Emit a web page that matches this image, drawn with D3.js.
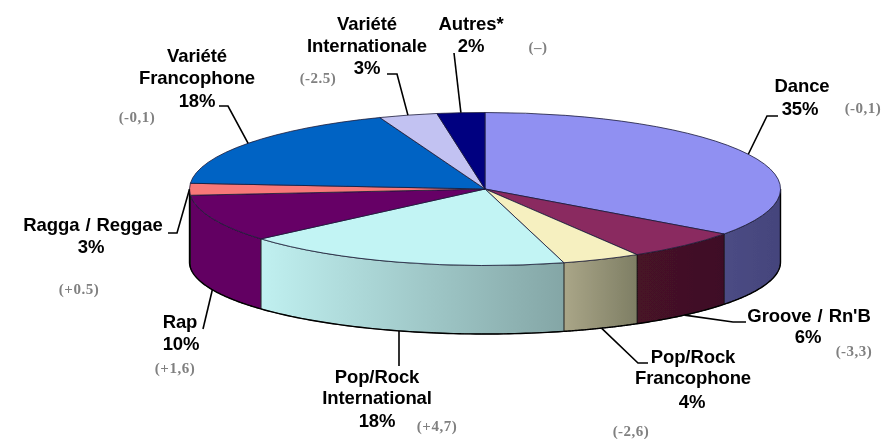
<!DOCTYPE html>
<html><head><meta charset="utf-8">
<script src="https://cdn.jsdelivr.net/npm/d3@7/dist/d3.min.js"></script>
<style>html,body{margin:0;background:#fff}svg{display:block}</style></head>
<body><svg id="c" width="886" height="439"></svg>
<script>
// DATA (clockwise from 12 o'clock)
const categories = ["Dance","Groove / Rn'B","Pop/Rock Francophone","Pop/Rock International","Rap","Ragga / Reggae","Variété Francophone","Variété Internationale","Autres*"];
const sliceShares = [35,6.4,4.3,18,10,2.5,18,3.2,2.6];      // angular shares
const percentLabels = ["35%","6%","4%","18%","10%","3%","18%","3%","2%"];
const changeLabels = ["(-0,1)","(-3,3)","(-2,6)","(+4,7)","(+1,6)","(+0.5)","(-0,1)","(-2.5)","(–)"];
const nameLines = [["Dance"],["Groove / Rn'B"],["Pop/Rock","Francophone"],["Pop/Rock","International"],["Rap"],["Ragga / Reggae"],["Variété","Francophone"],["Variété","Internationale"],["Autres*"]];

// STYLE
const topColors = ["#9090f2","#8a2a60","#f6f0c0","#c2f4f4","#660066","#f87878","#0464c4","#c2c2f2","#000080"];
const wallFrom  = ["#4c4c84","#471228","#aaa688","#c0f0f0","#620062","#600060","","",""];
const wallTo    = ["#44447c","#3e1028","#7e7e64","#84a6a6","#620062","#600060","","",""];

// LAYOUT
const topE = {cx:485,cy:189,rx:295.5,ry:76.5}, botE = {cx:485,cy:262,rx:295.5,ry:72};
const labelPos = [
 {x:802,ys:[92],p:[800,115],g:[863,113]},
 {x:809,ys:[322],p:[808,343],g:[854,356]},
 {x:693,ys:[363,384],p:[692,408],g:[631,436]},
 {x:377,ys:[383,404],p:[377,427],g:[437,431]},
 {x:180,ys:[328],p:[181,350],g:[175,373]},
 {x:93,ys:[231],p:[91,253],g:[79,294]},
 {x:197,ys:[62,84],p:[197,107],g:[137,122]},
 {x:367,ys:[30,52],p:[367,74],g:[318,83]},
 {x:471,ys:[30],p:[471,52],g:[538,52]}
];
const leaderElbows = [
 {rim:"t",pts:[[767,116],[778,116]]},
 {rim:"b",pts:[[733,322],[746,322]]},
 {rim:"b",pts:[[638,363],[648,363]]},
 {rim:"b",pts:[[399,366]]},
 {rim:"b",pts:[[203,329]]},
 {rim:"t",pts:[[177,233],[168,233]]},
 {rim:"t",pts:[[228,106],[219,106]]},
 {rim:"t",pts:[[397,74],[387,74]]},
 {rim:"t",pts:[[454,53]]}
];

const svg = d3.select("#c");
const defs = svg.append("defs");
defs.append("filter").attr("id","soft").attr("x",0).attr("y",0).attr("width",1).attr("height",1)
  .attr("filterUnits","userSpaceOnUse").attr("x",0).attr("y",0).attr("width",886).attr("height",439)
  .append("feGaussianBlur").attr("stdDeviation",0.45);
const root = svg.append("g").attr("filter","url(#soft)");
const pie = d3.pie().sort(null).value(d=>d).startAngle(0).endAngle(2*Math.PI);
const arcs = pie(sliceShares);

const px = (e,a)=>e.cx+e.rx*Math.sin(a), py=(e,a)=>e.cy-e.ry*Math.cos(a);
const outline = d3.line().x(d=>d[0]).y(d=>d[1]);

// Walls: only the front half (angles PI/2..3PI/2) is visible
arcs.forEach((d,i)=>{
  const a0=Math.max(d.startAngle,Math.PI/2), a1=Math.min(d.endAngle,3*Math.PI/2);
  if(a1<=a0) return;
  const as=d3.range(0,61).map(k=>a0+(a1-a0)*k/60);
  const pts=as.map(a=>[px(topE,a),py(topE,a)]).concat(as.slice().reverse().map(a=>[px(botE,a),py(botE,a)]));
  const id="w"+i;
  const g=defs.append("linearGradient").attr("id",id).attr("gradientUnits","userSpaceOnUse")
    .attr("x1",d3.min(pts,p=>p[0])).attr("x2",d3.max(pts,p=>p[0])).attr("y1",0).attr("y2",0);
  g.append("stop").attr("offset",0).attr("stop-color",wallFrom[i]);
  g.append("stop").attr("offset",1).attr("stop-color",wallTo[i]);
  root.append("path").attr("d",outline(pts)+"Z").attr("fill",`url(#${id})`).attr("stroke","#111").attr("stroke-width",.7);
  root.append("path").attr("d",outline(as.map(a=>[px(botE,a),py(botE,a)]))).attr("fill","none").attr("stroke","#000").attr("stroke-width",1.4);
});
[Math.PI/2,3*Math.PI/2].forEach(a=>root.append("line").attr("x1",px(topE,a)).attr("x2",px(botE,a)).attr("y1",py(topE,a)).attr("y2",py(botE,a)).attr("stroke","#000").attr("stroke-width",1.4));

// Top face
const arcGen=d3.arc().innerRadius(0).outerRadius(1);
root.append("g").attr("transform",`translate(${topE.cx},${topE.cy}) scale(${topE.rx},${topE.ry})`)
  .selectAll("path").data(arcs).join("path")
  .attr("d",arcGen).attr("fill",(d,i)=>topColors[i])
  .attr("stroke","#1a1a3a").attr("stroke-width",.8).attr("vector-effect","non-scaling-stroke");

// Leaders
arcs.forEach((d,i)=>{
  const m=(d.startAngle+d.endAngle)/2, l=leaderElbows[i], e=l.rim==="t"?topE:botE;
  root.append("path").attr("d",outline([[px(e,m),py(e,m)],...l.pts])).attr("fill","none").attr("stroke","#000").attr("stroke-width",1.6);
});

// Labels
const font="'Liberation Sans',Arial,sans-serif";
const text=(x,y,t)=>root.append("text").attr("x",x).attr("y",y).attr("text-anchor","middle").text(t);
const styleMain=s=>s.attr("font-family",font).attr("font-weight",700).attr("font-size",18.5).attr("letter-spacing",-0.1).attr("word-spacing",1).attr("fill","#000");
categories.forEach((c,i)=>{
  const p=labelPos[i];
  nameLines[i].forEach((t,k)=>styleMain(text(p.x,p.ys[k],t)));
  styleMain(text(p.p[0],p.p[1],percentLabels[i]));
  text(p.g[0],p.g[1],changeLabels[i]).attr("font-family","'Liberation Serif',serif").attr("font-weight",700).attr("font-size",15).attr("letter-spacing",0.5).attr("fill","#808080");
});
</script></body></html>
